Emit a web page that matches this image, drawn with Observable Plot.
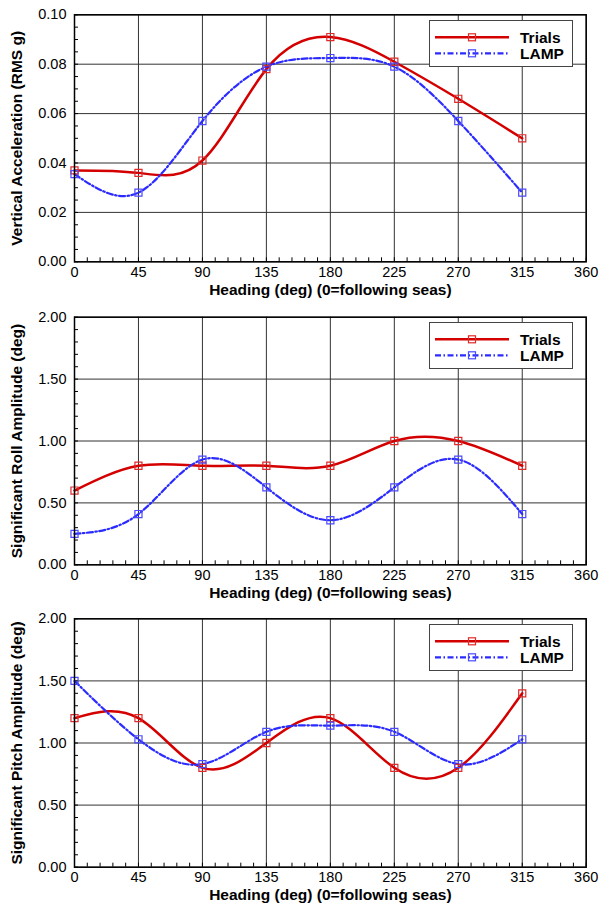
<!DOCTYPE html>
<html>
<head>
<meta charset="utf-8">
<script src="https://cdn.jsdelivr.net/npm/d3@7"></script>
<script src="https://cdn.jsdelivr.net/npm/@observablehq/plot@0.6"></script>
<style>
  body { margin: 0; background: #fff; font-family: "Liberation Sans", Arial, sans-serif; }
  .panel { position: relative; width: 599px; height: 301px; }
  .panel svg.plot { display: block; }
  .legend { position: absolute; box-sizing: border-box; width: 144px; height: 47px; border: 1px solid #444; background: #fff; }
</style>
</head>
<body>
<div id="chart"></div>
<script>
// ---- data ----
const headings = [0, 45, 90, 135, 180, 225, 270, 315];
const xTicks = [0, 45, 90, 135, 180, 225, 270, 315, 360];
const xLabel = "Heading (deg) (0=following seas)";
const seriesNames = ["Trials", "LAMP"];

const accelTrials = [0.037, 0.036, 0.041, 0.078, 0.091, 0.081, 0.066, 0.050];
const accelLamp   = [0.0355, 0.028, 0.057, 0.079, 0.0825, 0.079, 0.057, 0.028];
const accelTicks  = [0, 0.02, 0.04, 0.06, 0.08, 0.10];
const accelLabel  = "Vertical Acceleration (RMS g)";

const rollTrials = [0.60, 0.80, 0.80, 0.80, 0.80, 1.00, 1.00, 0.80];
const rollLamp   = [0.25, 0.41, 0.85, 0.625, 0.36, 0.625, 0.85, 0.41];
const rollTicks  = [0, 0.5, 1.0, 1.5, 2.0];
const rollLabel  = "Significant Roll Amplitude (deg)";

const pitchTrials = [1.20, 1.20, 0.80, 1.00, 1.20, 0.80, 0.80, 1.40];
const pitchLamp   = [1.50, 1.03, 0.83, 1.09, 1.14, 1.09, 0.83, 1.03];
const pitchTicks  = [0, 0.5, 1.0, 1.5, 2.0];
const pitchLabel  = "Significant Pitch Amplitude (deg)";

// ---- drawing ----
const RED = "#d40000", RED_M = "#e02a2a";
const BLUE = "#2b2bff", BLUE_M = "#4a4aff";
const DASH = "6,2.5,1.5,2.5";
const FONT = '"Liberation Sans", Arial, sans-serif';

const xMinor = d3.range(0, 361, 9);

const panels = [
  {trials: accelTrials, lamp: accelLamp, yTicks: accelTicks, yDomain: [0, 0.1], yMinor: d3.range(0, 0.1001, 0.005), yLabel: accelLabel, mt: 14.3, mb: 39.7},
  {trials: rollTrials, lamp: rollLamp, yTicks: rollTicks, yDomain: [0, 2], yMinor: d3.range(0, 2.001, 0.1), yLabel: rollLabel, mt: 15.7, mb: 37.7},
  {trials: pitchTrials, lamp: pitchLamp, yTicks: pitchTicks, yDomain: [0, 2], yMinor: d3.range(0, 2.001, 0.1), yLabel: pitchLabel, mt: 16.3, mb: 36.3}
];

const container = document.getElementById("chart");
const W = 599, H = 301, ML = 74, MR = 13.3, TICK = 4;

panels.forEach(p => {
  const tRows = headings.map((h, i) => ({heading: h, value: p.trials[i]}));
  const lRows = headings.map((h, i) => ({heading: h, value: p.lamp[i]}));
  const plotH = H - p.mt - p.mb, plotW = W - ML - MR;
  const chart = Plot.plot({
    width: W, height: H,
    marginLeft: ML, marginRight: MR, marginTop: p.mt, marginBottom: p.mb,
    x: {domain: [0, 360]},
    y: {domain: p.yDomain},
    style: {fontFamily: FONT, fontSize: "14.5px", color: "#000", background: "#fff", overflow: "visible"},
    marks: [
      Plot.gridX(xTicks, {stroke: "#333", strokeOpacity: 1, strokeWidth: 1}),
      Plot.gridY(p.yTicks, {stroke: "#333", strokeOpacity: 1, strokeWidth: 1}),
      Plot.axisX(xTicks, {tickSize: 0, tickPadding: 5, label: null}),
      Plot.axisY(p.yTicks, {tickSize: 0, tickPadding: 8, tickFormat: d3.format(".2f"), label: null}),
      Plot.tickX(xMinor, {x: d => d, insetTop: plotH - TICK, stroke: "#000", strokeWidth: 1}),
      Plot.tickY(p.yMinor, {y: d => d, insetRight: plotW - TICK, stroke: "#000", strokeWidth: 1}),
      Plot.line(tRows, {x: "heading", y: "value", curve: "natural", stroke: RED, strokeWidth: 2.5}),
      Plot.line(lRows, {x: "heading", y: "value", curve: "natural", stroke: BLUE, strokeWidth: 2.2, strokeDasharray: DASH}),
      Plot.dot(tRows, {x: "heading", y: "value", symbol: "square", r: 4, stroke: RED_M, strokeWidth: 1.2, fill: "none"}),
      Plot.dot(lRows, {x: "heading", y: "value", symbol: "square", r: 4, stroke: BLUE_M, strokeWidth: 1.2, fill: "none"}),
      Plot.frame({stroke: "#000", strokeWidth: 1.5}),
      Plot.text([xLabel], {text: d => d, frameAnchor: "bottom", dy: 33, lineAnchor: "bottom", textAnchor: "middle", fontWeight: "bold", fontSize: 15.5}),
      Plot.text([p.yLabel], {text: d => d, frameAnchor: "left", dx: -57.3, rotate: -90, lineAnchor: "middle", textAnchor: "middle", fontWeight: "bold", fontSize: 15.5})
    ]
  });
  chart.classList.add("plot");
  const div = document.createElement("div");
  div.className = "panel";
  div.appendChild(chart);

  // legend
  const leg = document.createElement("div");
  leg.className = "legend";
  leg.style.left = (W - MR - 12.4 - 144) + "px";
  leg.style.top = (p.mt + 5.7) + "px";
  const svg = d3.select(leg).append("svg").attr("width", 142).attr("height", 45).style("display", "block");
  const items = [
    {name: seriesNames[0], stroke: RED, mk: RED_M, dash: null, w: 2.5, y: 16.3},
    {name: seriesNames[1], stroke: BLUE, mk: BLUE_M, dash: DASH, w: 2.2, y: 32.3}
  ];
  items.forEach(it => {
    svg.append("line").attr("x1", 5).attr("x2", 79).attr("y1", it.y).attr("y2", it.y)
      .attr("stroke", it.stroke).attr("stroke-width", it.w).attr("stroke-dasharray", it.dash);
    svg.append("rect").attr("x", 42 - 3.5).attr("y", it.y - 3.5).attr("width", 7).attr("height", 7)
      .attr("fill", "none").attr("stroke", it.mk).attr("stroke-width", 1.2);
    svg.append("text").attr("x", 90).attr("y", it.y + 5.5).text(it.name)
      .attr("font-family", FONT).attr("font-weight", "bold").attr("font-size", 15.5).attr("fill", "#000");
  });
  div.appendChild(leg);
  container.appendChild(div);
});
</script>
</body>
</html>
